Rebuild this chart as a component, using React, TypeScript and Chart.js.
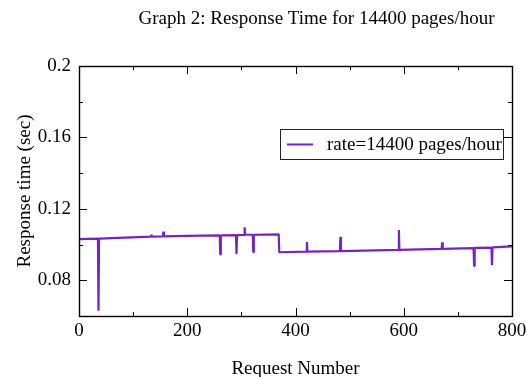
import React, { useEffect, useRef } from 'react';
import { Chart, registerables } from 'chart.js';

Chart.register(...registerables);

const chartTitle = 'Graph 2: Response Time for 14400 pages/hour';
const seriesLabel = 'rate=14400 pages/hour';
const xAxisTitle = 'Request Number';
const yAxisTitle = 'Response time (sec)';

const xTickLabels = [0, 200, 400, 600, 800];
const yTickLabels = [0.08, 0.12, 0.16, 0.2];

const requestNumbers = [
  0, 35, 36, 37, 133, 134, 135, 155, 156, 157, 200,
  260, 261, 262, 290, 291, 292, 305, 306, 307, 321, 322, 323,
  369, 370, 420, 421, 422, 482, 483, 484, 590, 591, 592,
  670, 671, 672, 729, 730, 731, 762, 763, 764, 800,
];
const responseTimes = [
  0.1030, 0.1033, 0.0630, 0.1033, 0.1044, 0.1055, 0.1044, 0.1046, 0.1072, 0.1046, 0.1049,
  0.1051, 0.0945, 0.1051, 0.1053, 0.0947, 0.1053, 0.1054, 0.1097, 0.1055, 0.1055, 0.0957, 0.1055,
  0.1057, 0.0957, 0.0960, 0.1015, 0.0960, 0.0963, 0.1044, 0.0963, 0.0970, 0.1082, 0.0970,
  0.0976, 0.1013, 0.0976, 0.0980, 0.0880, 0.0981, 0.0983, 0.0884, 0.0984, 0.0990,
];

const FONT = "'Liberation Serif', 'Times New Roman', serif";
const FONT_SIZE = 19;
const LINE_COLOR = '#7622c4';

const isLabeled = (list: number[], v: number) => list.some((t) => Math.abs(t - v) < 1e-9);
const labelFor = (list: number[], v: number) => {
  const hit = list.find((t) => Math.abs(t - v) < 1e-9);
  return hit === undefined ? '' : String(hit);
};

const framePlugin = {
  id: 'frameTicks',
  afterDatasetsDraw(chart: any) {
    const { ctx, chartArea: a, scales } = chart;
    const xs = scales.x;
    const ys = scales.y;
    ctx.save();
    ctx.strokeStyle = '#000';
    ctx.lineWidth = 1;
    ctx.beginPath();
    xs.ticks.forEach((t: any) => {
      const px = Math.round(xs.getPixelForValue(t.value)) + 0.5;
      const len = isLabeled(xTickLabels, t.value) ? 8 : 4;
      ctx.moveTo(px, a.bottom);
      ctx.lineTo(px, a.bottom - len);
      ctx.moveTo(px, a.top);
      ctx.lineTo(px, a.top + len);
    });
    ys.ticks.forEach((t: any) => {
      const py = Math.round(ys.getPixelForValue(t.value)) + 0.5;
      const len = isLabeled(yTickLabels, t.value) ? 8 : 4;
      ctx.moveTo(a.left, py);
      ctx.lineTo(a.left + len, py);
      ctx.moveTo(a.right, py);
      ctx.lineTo(a.right - len, py);
    });
    ctx.stroke();
    ctx.lineWidth = 1.4;
    ctx.strokeRect(Math.round(a.left) + 0.5, Math.round(a.top) + 0.5,
      Math.round(a.right - a.left), Math.round(a.bottom - a.top));
    ctx.restore();
  },
  afterDraw(chart: any) {
    const { ctx, chartArea: a } = chart;
    ctx.save();
    // Title
    ctx.fillStyle = '#000';
    ctx.font = `${FONT_SIZE}px ${FONT}`;
    ctx.textAlign = 'center';
    ctx.textBaseline = 'alphabetic';
    ctx.fillText(chartTitle, (a.left + a.right) / 2 + 21, 24);
    // Legend box
    const bx = a.right - 232;
    const by = a.top + 63;
    const bw = 223;
    const bh = 30;
    ctx.strokeStyle = '#222';
    ctx.lineWidth = 1;
    ctx.strokeRect(Math.round(bx) + 0.5, Math.round(by) + 0.5, bw, bh);
    const ds = chart.data.datasets[0];
    ctx.strokeStyle = ds.borderColor;
    ctx.lineWidth = 2;
    ctx.beginPath();
    ctx.moveTo(bx + 7, by + 15.5);
    ctx.lineTo(bx + 33, by + 15.5);
    ctx.stroke();
    ctx.textAlign = 'left';
    ctx.textBaseline = 'middle';
    ctx.fillText(ds.label, bx + 47, by + 16);
    ctx.restore();
  },
};

export default function App() {
  const ref = useRef<HTMLCanvasElement | null>(null);
  useEffect(() => {
    document.body.style.margin = '0';
    const canvas = ref.current;
    if (!canvas) return;
    const chart = new Chart(canvas, {
      type: 'line',
      data: {
        datasets: [
          {
            label: seriesLabel,
            data: requestNumbers.map((x, i) => ({ x, y: responseTimes[i] })),
            borderColor: LINE_COLOR,
            backgroundColor: LINE_COLOR,
            borderWidth: 2.2,
            borderJoinStyle: 'bevel',
            pointRadius: 0,
            tension: 0,
          },
        ],
      },
      options: {
        animation: false,
        responsive: false,
        maintainAspectRatio: false,
        devicePixelRatio: 1,
        layout: { padding: { top: 66, right: 15, bottom: 0, left: 0 } },
        plugins: {
          legend: { display: false },
          title: { display: false },
          tooltip: { enabled: false },
        },
        font: { family: FONT, size: FONT_SIZE },
        scales: {
          x: {
            type: 'linear',
            min: 0,
            max: 800,
            grid: { display: false, drawTicks: false },
            border: { display: false },
            ticks: {
              stepSize: 100,
              autoSkip: false,
              maxRotation: 0,
              padding: 4,
              color: '#000',
              font: { family: FONT, size: FONT_SIZE },
              callback: (v: any) => labelFor(xTickLabels, Number(v)),
            },
            title: {
              display: true,
              text: xAxisTitle,
              color: '#000',
              font: { family: FONT, size: FONT_SIZE, lineHeight: 1 },
              padding: { top: 0, bottom: -2 },
            },
            afterFit: (s: any) => {
              s.height = 61;
              s.paddingLeft = 0;
              s.paddingRight = 0;
            },
          },
          y: {
            type: 'linear',
            min: 0.06,
            max: 0.2,
            grid: { display: false, drawTicks: false },
            border: { display: false },
            ticks: {
              stepSize: 0.02,
              autoSkip: false,
              padding: 8,
              color: '#000',
              font: { family: FONT, size: FONT_SIZE },
              callback: (v: any) => labelFor(yTickLabels, Number(v)),
            },
            title: {
              display: true,
              text: yAxisTitle,
              color: '#000',
              font: { family: FONT, size: FONT_SIZE, lineHeight: 1 },
              padding: { top: 16, bottom: 0 },
            },
            afterFit: (s: any) => {
              s.width = 79;
              s.paddingTop = 0;
              s.paddingBottom = 0;
            },
          },
        },
      } as any,
      plugins: [framePlugin],
    });
    return () => chart.destroy();
  }, []);
  return <canvas ref={ref} width={527} height={377} style={{ display: 'block' }} />;
}
